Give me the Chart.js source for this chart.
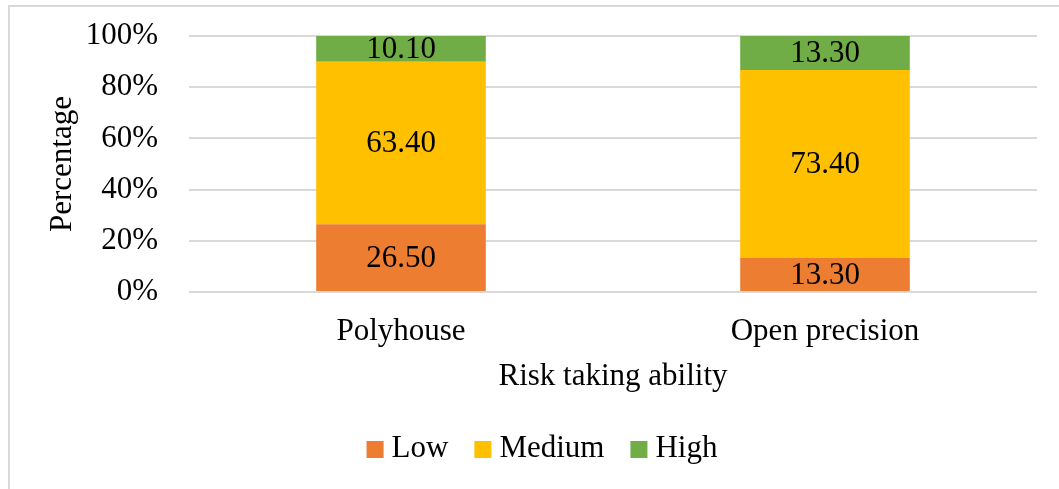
<!DOCTYPE html>
<html>
<head>
<meta charset="utf-8">
<script src="https://cdn.jsdelivr.net/npm/chart.js@4.4.1/dist/chart.umd.min.js"></script>
<style>
  html, body { margin: 0; padding: 0; background: #fff; }
  canvas { display: block; }
</style>
</head>
<body>
<canvas id="chart" width="1059" height="489"></canvas>
<script>
// Risk taking ability by farming system (percent of respondents)
const categories = ['Polyhouse', 'Open precision'];
const seriesNames = ['Low', 'Medium', 'High'];
const lowValues = [26.5, 13.3];
const mediumValues = [63.4, 73.4];
const highValues = [10.1, 13.3];
const yTickStep = 20;
const yMax = 100;

const FONT = '"Liberation Serif", "Times New Roman", serif';
const FONT_SIZE = 31;
const seriesColors = ['#ED7D31', '#FFC000', '#70AD47'];

// White page with the light frame along the top and left edges
const framePlugin = {
  id: 'frame',
  beforeDraw(chart) {
    const ctx = chart.ctx;
    ctx.save();
    ctx.fillStyle = '#ffffff';
    ctx.fillRect(0, 0, chart.width, chart.height);
    ctx.strokeStyle = '#d9d9d9';
    ctx.lineWidth = 2;
    ctx.beginPath();
    ctx.moveTo(9, chart.height);
    ctx.lineTo(9, 6);
    ctx.lineTo(chart.width, 6);
    ctx.stroke();
    ctx.restore();
  }
};

// Value written in the middle of each stacked segment
const valueLabels = {
  id: 'valueLabels',
  afterDatasetsDraw(chart) {
    const ctx = chart.ctx;
    ctx.save();
    ctx.font = FONT_SIZE + 'px ' + FONT;
    ctx.fillStyle = '#000';
    ctx.textAlign = 'center';
    ctx.textBaseline = 'middle';
    chart.data.datasets.forEach((ds, i) => {
      const meta = chart.getDatasetMeta(i);
      meta.data.forEach((bar, j) => {
        const p = bar.getProps(['x', 'y', 'base'], true);
        ctx.fillText(ds.data[j].toFixed(2), p.x, (p.y + p.base) / 2 + 1);
      });
    });
    ctx.restore();
  }
};

// Compact legend row under the axis title
const bottomLegend = {
  id: 'bottomLegend',
  afterDraw(chart) {
    const ctx = chart.ctx;
    const box = 17, gap = 8, spacing = 26, rowY = 449, centerX = 542;
    ctx.save();
    ctx.font = FONT_SIZE + 'px ' + FONT;
    const items = chart.data.datasets.map(ds => ({
      label: ds.label,
      color: ds.backgroundColor,
      w: ctx.measureText(ds.label).width
    }));
    const total = items.reduce((s, it) => s + box + gap + it.w, 0) + spacing * (items.length - 1);
    let x = centerX - total / 2;
    ctx.textAlign = 'left';
    ctx.textBaseline = 'middle';
    items.forEach(it => {
      ctx.fillStyle = it.color;
      ctx.fillRect(x, rowY - 8, box, box);
      ctx.fillStyle = '#000';
      ctx.fillText(it.label, x + box + gap, rowY);
      x += box + gap + it.w + spacing;
    });
    ctx.restore();
  }
};

const valueSets = [lowValues, mediumValues, highValues];

new Chart(document.getElementById('chart'), {
  type: 'bar',
  data: {
    labels: categories,
    datasets: seriesNames.map((name, i) => ({
      label: name,
      data: valueSets[i],
      backgroundColor: seriesColors[i],
      borderWidth: 0,
      barPercentage: 0.4,
      categoryPercentage: 1.0
    }))
  },
  options: {
    responsive: false,
    animation: false,
    devicePixelRatio: 1,
    layout: { padding: { left: 0, right: 22, top: 36, bottom: 67 } },
    plugins: {
      legend: { display: false },
      tooltip: { enabled: false },
      title: { display: false }
    },
    scales: {
      x: {
        stacked: true,
        grid: { display: false },
        border: { display: false },
        ticks: {
          color: '#000',
          padding: 13,
          font: { family: FONT, size: FONT_SIZE }
        },
        title: {
          display: true,
          text: 'Risk taking ability',
          color: '#000',
          padding: { top: 0, bottom: 27 },
          font: { family: FONT, size: FONT_SIZE }
        },
        afterFit(scale) { scale.height = 130; }
      },
      y: {
        stacked: true,
        min: 0,
        max: yMax,
        grid: { color: '#d9d9d9', lineWidth: 2, drawTicks: false },
        border: { display: false },
        ticks: {
          stepSize: yTickStep,
          color: '#000',
          padding: 31,
          font: { family: FONT, size: FONT_SIZE },
          callback: v => v + '%'
        },
        title: {
          display: true,
          text: 'Percentage',
          color: '#000',
          padding: { top: 44, bottom: 0 },
          font: { family: FONT, size: FONT_SIZE }
        },
        afterFit(scale) {
          scale.width = 189;
          scale.paddingTop = 0;
          scale.paddingBottom = 0;
        }
      }
    }
  },
  plugins: [framePlugin, valueLabels, bottomLegend]
});
</script>
</body>
</html>
